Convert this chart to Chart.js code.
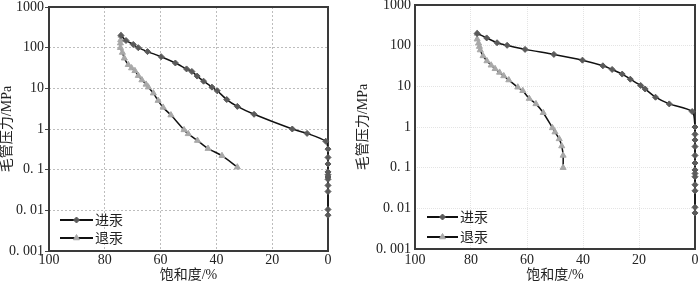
<!DOCTYPE html>
<html>
<head>
<meta charset="utf-8">
<script src="https://cdn.jsdelivr.net/npm/chart.js@4/dist/chart.umd.min.js"></script>
<style>
html, body { margin: 0; padding: 0; background: #fff; }
#wrap { position: relative; width: 700px; height: 282px; overflow: hidden; }
.panel { position: absolute; top: 0; width: 350px; height: 282px; }
</style>
</head>
<body>
<div id="wrap">
  <div class="panel" style="left:0"><canvas id="c1" width="350" height="282"></canvas></div>
  <div class="panel" style="left:350px"><canvas id="c2" width="350" height="282"></canvas></div>
</div>
<script>
const seriesNames = ['进汞', '退汞'];
const xTicks = [100, 80, 60, 40, 20, 0];
const yTicks = [0.001, 0.01, 0.1, 1, 10, 100, 1000];
const yTickLabels = ['0. 001', '0. 01', '0. 1', '1', '10', '100', '1000'];
const xTitle = '饱和度/%';
const yTitle = '毛管压力/MPa';

// left panel
const leftInS = [74.2, 72.4, 69.8, 68.0, 64.7, 59.8, 54.7, 50.7, 48.8, 46.9, 44.6, 41.6, 39.7, 36.3, 32.5, 26.5, 12.8, 7.5, 0.8,
                 0, 0, 0, 0, 0, 0, 0, 0, 0, 0, 0];
const leftInP = [200, 150, 120, 100, 80, 60, 42, 30, 26, 20, 15, 10.7, 8.7, 5.3, 3.6, 2.3, 1.0, 0.78, 0.5,
                 0.32, 0.2, 0.138, 0.088, 0.075, 0.066, 0.058, 0.041, 0.029, 0.0105, 0.0076];
const leftOutS = [74.2, 74.3, 74.4, 74.4, 73.7, 73.0, 71.6, 70.4, 69.2, 68.0, 66.7, 65.2, 64.4, 62.6, 60.9, 59.1, 56.3,
                  51.6, 50.1, 46.8, 43.0, 38.0, 32.5];
const leftOutP = [200, 155, 129, 100, 76, 55, 38, 31.5, 27, 20.5, 16, 12.5, 10.7, 7.6, 5.0, 3.4, 2.2,
                  0.95, 0.76, 0.52, 0.33, 0.22, 0.115];

// right panel
const rightInS = [77.8, 74.4, 70.7, 67.1, 60.7, 50.4, 40.2, 32.9, 29.6, 26.0, 23.1, 19.4, 17.8, 14.1, 9.2, 1.0,
                  0, 0, 0, 0, 0, 0, 0, 0, 0, 0, 0, 0, 0];
const rightInP = [200, 155, 118, 102, 81, 61, 44, 32, 26, 20, 15, 10.5, 8.6, 5.4, 3.7, 2.4,
                  1.0, 0.66, 0.48, 0.33, 0.2, 0.13, 0.088, 0.072, 0.06, 0.038, 0.027, 0.0106, 0.0077];
const rightOutS = [77.8, 77.8, 77.3, 77.0, 76.7, 75.7, 74.3, 72.8, 71.4, 69.8, 68.3, 66.5, 63.3, 61.5, 59.2, 56.8,
                   54.2, 50.9, 50.0, 48.5, 47.6, 47.1, 47.1];
const rightOutP = [200, 144, 115, 95, 78, 56, 42, 33, 27, 22, 18, 14.3, 9.5, 7.8, 5.0, 3.7,
                   2.24, 0.95, 0.75, 0.51, 0.34, 0.2, 0.1];

const SERIF = "'Liberation Serif', 'Times New Roman', 'Noto Sans CJK SC', serif";

function pts(xs, ys) {
    return xs.map((x, i) => ({ x: x, y: ys[i] }));
}

// box around the plot area
const framePlugin = {
    id: 'frame',
    beforeDatasetsDraw(chart) {
        const a = chart.chartArea;
        const ctx = chart.ctx;
        ctx.save();
        ctx.strokeStyle = '#3a3a3a';
        ctx.lineWidth = 2;
        ctx.strokeRect(a.left, a.top, a.right - a.left, a.bottom - a.top);
        ctx.restore();
    }
};

// legend drawn inside the plot, bottom-left
const boxLegend = {
    id: 'boxLegend',
    afterDraw(chart, args, opts) {
        const a = chart.chartArea;
        const ctx = chart.ctx;
        chart.data.datasets.forEach((ds, i) => {
            const y = a.bottom - opts.bottom + i * opts.gap;
            const x0 = a.left + opts.left;
            const x1 = x0 + opts.len;
            ctx.save();
            ctx.strokeStyle = '#111';
            ctx.lineWidth = 2;
            ctx.beginPath();
            ctx.moveTo(x0, y);
            ctx.lineTo(x1, y);
            ctx.stroke();
            ctx.fillStyle = ds.pointBackgroundColor;
            ctx.strokeStyle = ds.pointBorderColor;
            ctx.lineWidth = 1;
            Chart.helpers.drawPoint(ctx, { pointStyle: ds.pointStyle, radius: ds.pointRadius, borderWidth: 1, rotation: 0 }, (x0 + x1) / 2, y);
            ctx.fillStyle = '#222';
            ctx.font = '14px ' + SERIF;
            ctx.textBaseline = 'middle';
            ctx.fillText(ds.label, x1 + 2, y + 1);
            ctx.restore();
        });
    }
};

function makeChart(id, inS, inP, outS, outP, cfg) {
    const ctx = document.getElementById(id).getContext('2d');
    return new Chart(ctx, {
        type: 'line',
        data: {
            datasets: [
                {
                    label: seriesNames[0],
                    data: pts(inS, inP),
                    borderColor: '#111',
                    borderWidth: 1.5,
                    pointStyle: 'rectRot',
                    pointRadius: 3,
                    pointBackgroundColor: '#5a5a5a',
                    pointBorderColor: '#5a5a5a',
                    pointBorderWidth: 1,
                    tension: 0.25,
                    fill: false,
                    clip: false
                },
                {
                    label: seriesNames[1],
                    data: pts(outS, outP),
                    borderColor: '#111',
                    borderWidth: 1.5,
                    pointStyle: 'triangle',
                    pointRadius: 3.5,
                    pointBackgroundColor: '#a8a8a8',
                    pointBorderColor: '#a8a8a8',
                    pointBorderWidth: 1,
                    tension: 0.25,
                    fill: false,
                    clip: false
                }
            ]
        },
        options: {
            responsive: false,
            animation: false,
            devicePixelRatio: 1,
            layout: { padding: { top: cfg.padTop, right: cfg.padRight, left: 0, bottom: 0 } },
            plugins: {
                legend: { display: false },
                tooltip: { enabled: false },
                boxLegend: cfg.legend
            },
            scales: {
                x: {
                    type: 'linear',
                    reverse: true,
                    min: 0,
                    max: 100,
                    afterBuildTicks: s => { s.ticks = xTicks.map(v => ({ value: v })); },
                    afterFit: s => { s.height = cfg.xHeight; s.paddingLeft = 0; s.paddingRight = 0; },
                    ticks: {
                        padding: cfg.xTickPad,
                        color: '#222',
                        maxRotation: 0,
                        autoSkip: false,
                        font: { family: SERIF, size: 14 }
                    },
                    grid: { color: cfg.gridColor, lineWidth: 1, drawTicks: false },
                    border: { display: false, dash: cfg.gridDash },
                    title: {
                        display: true,
                        text: xTitle,
                        color: '#222',
                        font: { family: SERIF, size: 14 },
                        padding: { top: 0, bottom: -2 }
                    }
                },
                y: {
                    type: 'logarithmic',
                    min: 0.001,
                    max: 1000,
                    afterBuildTicks: s => { s.ticks = yTicks.map(v => ({ value: v })); },
                    afterFit: s => { s.width = cfg.yWidth; s.paddingTop = 0; s.paddingBottom = 0; },
                    ticks: {
                        padding: cfg.yTickPad,
                        color: '#222',
                        autoSkip: false,
                        font: { family: SERIF, size: 14 },
                        callback: v => {
                            const i = yTicks.indexOf(v);
                            return i >= 0 ? yTickLabels[i] : '';
                        }
                    },
                    grid: {
                        color: cfg.gridColor,
                        lineWidth: 1,
                        drawTicks: cfg.yTickLen > 0,
                        tickLength: cfg.yTickLen,
                        tickColor: '#444',
                        tickBorderDash: []
                    },
                    border: { display: false, dash: cfg.gridDash },
                    title: {
                        display: true,
                        text: yTitle,
                        color: '#222',
                        font: { family: SERIF, size: 14 },
                        padding: { top: cfg.yTitlePad, bottom: 0 }
                    }
                }
            }
        },
        plugins: [framePlugin, boxLegend]
    });
}

makeChart('c1', leftInS, leftInP, leftOutS, leftOutP, {
    padTop: 7, padRight: 22, xHeight: 31, yWidth: 49,
    xTickPad: 1, yTickPad: 1, yTickLen: 4, yTitlePad: -1.5,
    gridColor: '#bdbdbd', gridDash: [2, 2],
    legend: { left: 11, len: 33, bottom: 31, gap: 18 }
});

makeChart('c2', rightInS, rightInP, rightOutS, rightOutP, {
    padTop: 5, padRight: 3, xHeight: 33, yWidth: 65,
    xTickPad: 3, yTickPad: 4, yTickLen: 0, yTitlePad: 5,
    gridColor: '#e4e4e4', gridDash: [1, 1],
    legend: { left: 12, len: 31, bottom: 32, gap: 20 }
});
</script>
</body>
</html>
